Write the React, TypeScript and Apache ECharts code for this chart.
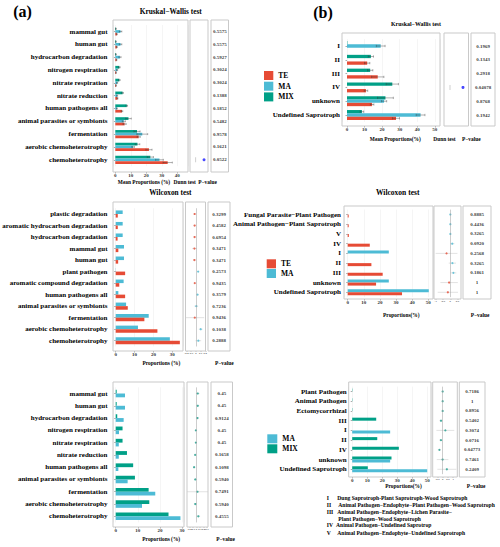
import { useEffect, useRef } from "react";
import * as echarts from "echarts";

// ---------------- data ----------------
// (a) Kruskal-Wallis (TE / MA / MIX)
const a1Categories = ["mammal gut", "human gut", "hydrocarbon degradation", "nitrogen respiration", "nitrate respiration", "nitrate reduction", "human pathogens all", "animal parasites or symbionts", "fermentation", "aerobic chemoheterotrophy", "chemoheterotrophy"];
const a1MIX = [0.4, 0.4, 0.4, 2.6, 2.6, 4.7, 7.4, 8.5, 14.0, 14.3, 22.6];
const a1MA = [3.4, 3.4, 3.0, 1.2, 1.2, 1.2, 1.0, 5.5, 17.4, 11.5, 28.5];
const a1TE = [1.0, 1.0, 0.8, 0.5, 0.5, 1.4, 4.3, 6.0, 15.1, 21.7, 33.8];
const a1MIXErr = [0.3, 0.3, 0.3, 0.5, 0.5, 0.5, 0.5, 1.8, 2.0, 1.5, 2.0];
const a1MAErr = [0.8, 0.8, 0.7, 0.3, 0.3, 0.3, 0.3, 1.0, 3.5, 0.8, 2.5];
const a1TEErr = [0.3, 0.3, 0.2, 0.2, 0.2, 0.3, 0.5, 1.0, 1.0, 2.0, 3.0];
const a1PValues = ["0.5575", "0.5575", "0.5927", "0.3024", "0.3024", "0.1388", "0.1852", "0.5482", "0.9578", "0.1621", "0.0522"];
const a1DunnRow = 10;
const a1DunnMark = 0.32;
const a1DunnDot = 0.78;

// (a) Wilcoxon TE vs MA
const a2Categories = ["plastic degradation", "aromatic hydrocarbon degradation", "hydrocarbon degradation", "mammal gut", "human gut", "plant pathogen", "aromatic compound degradation", "human pathogens all", "animal parasites or symbionts", "fermentation", "aerobic chemoheterotrophy", "chemoheterotrophy"];
const a2MA = [3.7, 3.7, 3.7, 4.4, 4.4, 0.1, 4.2, 1.4, 5.5, 17.5, 11.8, 28.7];
const a2TE = [1.1, 1.1, 1.0, 1.4, 1.3, 5.0, 1.9, 5.0, 6.4, 15.2, 22.1, 34.0];
const a2Diff = [-0.026, -0.026, -0.027, -0.03, -0.031, 0.049, -0.023, 0.036, 0.009, -0.023, 0.103, 0.053];
const a2Half = [0.02, 0.02, 0.02, 0.05, 0.03, 0.02, 0.02, 0.02, 0.04, 0.2, 0.04, 0.06];
const a2PValues = ["0.3299", "0.4582", "0.6954", "0.3471", "0.3471", "0.2573", "0.9435", "0.3579", "0.7236", "0.9436", "0.1038", "0.2888"];

// (a) Wilcoxon MIX vs MA
const a3Categories = ["mammal gut", "human gut", "hydrocarbon degradation", "nitrogen respiration", "nitrate respiration", "nitrate reduction", "human pathogens all", "animal parasites or symbionts", "fermentation", "aerobic chemoheterotrophy", "chemoheterotrophy"];
const a3MIX = [0.45, 0.45, 0.7, 3.1, 3.1, 5.1, 7.9, 8.7, 14.9, 15.2, 23.9];
const a3MA = [4.2, 4.2, 3.6, 1.5, 1.4, 1.4, 1.2, 5.4, 17.9, 11.9, 29.3];
const a3Diff = [0.037, 0.037, 0.029, -0.017, -0.017, -0.037, -0.067, -0.033, 0.03, -0.033, 0.054];
const a3Half = [0.05, 0.04, 0.03, 0.02, 0.02, 0.02, 0.03, 0.03, 0.3, 0.04, 0.05];
const a3PValues = ["0.45", "0.45", "0.9124", "0.45", "0.45", "0.1658", "0.1098", "0.5940", "0.7491", "0.5940", "0.4555"];

// (b) Kruskal-Wallis
const b1Categories = ["I", "II", "III", "IV", "unknown", "Undefined Saprotroph"];
const b1MIX = [0.2, 13.6, 13.2, 25.8, 21.9, 8.5];
const b1MA = [19.2, 0, 0, 0, 21.1, 41.9];
const b1TE = [0, 11.5, 17.5, 10.8, 14.3, 27.9];
const b1MIXErr = [0, 1.5, 1.5, 3.5, 4.5, 1.0];
const b1MAErr = [2.5, 0, 0, 0, 1.5, 2.5];
const b1TEErr = [0, 1.5, 3.5, 1.0, 1.0, 2.0];
const b1PValues = ["0.1969", "0.1343", "0.2918", "0.04078", "0.8768", "0.1942"];
const b1DunnRow = 3;
const b1DunnMark = 0.245;
const b1DunnDot = 0.775;

// (b) Wilcoxon TE vs MA
const b2Categories = ["Fungal Parasite\u2212Plant Pathogen", "Animal Pathogen\u2212Plant Saprotroph", "V", "IV", "I", "II", "III", "unknown", "Undefined Saprotroph"];
const b2MA = [0, 0, 0, 0, 25.5, 0, 0, 25.5, 50.3];
const b2TE = [0.6, 0.6, 0.7, 13.7, 0, 14.7, 21.7, 17.6, 33.7];
const b2Diff = [0.006, 0.006, 0.007, 0.137, -0.255, 0.147, 0.217, -0.079, -0.166];
const b2Half = [0.02, 0.02, 0.02, 0.15, 0.75, 0.25, 0.2, 0.6, 0.7];
const b2PValues = ["0.8885", "0.4436", "0.3265", "0.0920", "0.2568", "0.3265", "0.1861", "1", "1"];

// (b) Wilcoxon MA vs MIX
const b3Categories = ["Plant Pathogen", "Animal Pathogen", "Ectomycorrhizal", "III", "I", "II", "IV", "unknown", "Undefined Saprotroph"];
const b3MIX = [0.2, 0.2, 0.2, 16.0, 0, 16.7, 31.1, 26.2, 10.4];
const b3MA = [0, 0, 0, 0, 25.3, 0, 0, 25.3, 50.0];
const b3Diff = [-0.002, -0.002, -0.002, -0.16, 0.253, -0.167, -0.311, -0.009, 0.396];
const b3Half = [0.02, 0.02, 0.02, 0.15, 0.85, 0.15, 0.15, 0.55, 0.9];
const b3PValues = ["0.7186", "1", "0.8956", "0.5402", "0.3074", "0.0716", "0.04773", "0.7461", "0.2409"];

const footKeys = ["I", "II", "III", "", "IV", "V"];
const footTexts = [
  "Dung Saprotroph-Plant Saprotroph-Wood Saprotroph",
  "Animal Pathogen\u2212Endophyte\u2212Plant Pathogen\u2212Wood Saprotroph",
  "Animal Pathogen\u2212Endophyte\u2212Lichen Parasite\u2212",
  "Plant Pathogen\u2212Wood Saprotroph",
  "Animal Pathogen\u2212Undefined Saprotrop",
  "Animal Pathogen\u2212Endophyte\u2212Undefined Saprotroph",
];

// ---------------- styling ----------------
const FONT = "'Liberation Serif','Times New Roman',serif";
const COL_TE = "#E64B35";
const COL_MA = "#4DBBD5";
const COL_MIX = "#00A087";
const COL_TEAL_DOT = "#1F9E8D";
const INK = "#000000";

function buildOption() {
  const grid: any[] = [];
  const xAxis: any[] = [];
  const yAxis: any[] = [];
  const series: any[] = [];
  const graphic: any[] = [];

  const frame = (x1: number, y1: number, x2: number, y2: number) =>
    graphic.push({
      type: "rect", silent: true, z: 10,
      shape: { x: x1, y: y1, width: x2 - x1, height: y2 - y1 },
      style: { fill: "none", stroke: "#c9c9c9", lineWidth: 1 },
    });

  const addGrid = (x1: number, y1: number, x2: number, y2: number, c0: number, cN: number, n: number) => {
    const s = (cN - c0) / (n - 1);
    const top = c0 - s / 2;
    const bottom = cN + s / 2;
    frame(x1, y1, x2, y2);
    grid.push({ left: x1, top, width: x2 - x1, height: bottom - top, containLabel: false, outerBoundsMode: "none" });
    return { gi: grid.length - 1, off: y2 - bottom };
  };

  const hiddenY = (gi: number, cats: string[]) =>
    yAxis.push({ gridIndex: gi, type: "category", data: cats, inverse: true, show: false });

  const text = (t: string, x: number, y: number, size: number, align = "center") =>
    graphic.push({
      type: "text", silent: true, x, y, z: 20,
      style: {
        text: t, font: `bold ${size}px ${FONT}`, fill: INK,
        textAlign: align, textVerticalAlign: "middle", align, verticalAlign: "middle",
      },
    });

  type BarS = { name: string; color: string; values: number[]; err?: number[] };
  const barPanel = (
    L: { x1: number; y1: number; x2: number; y2: number; c0: number; cN: number; zero: number; ppu: number; gap: number; margin: number },
    cats: string[], ss: BarS[]
  ) => {
    const { gi, off } = addGrid(L.x1, L.y1, L.x2, L.y2, L.c0, L.cN, cats.length);
    xAxis.push({
      gridIndex: gi, type: "value",
      min: -(L.zero - L.x1) / L.ppu, max: (L.x2 - L.zero) / L.ppu,
      minInterval: 10, maxInterval: 10, offset: off,
      axisLine: { show: false },
      axisTick: { show: true, length: 1.5, lineStyle: { color: "#555", width: 0.5 } },
      axisLabel: { showMinLabel: false, showMaxLabel: false, margin: 1.2, fontSize: 5, fontWeight: "bold", fontFamily: FONT, color: "#333" },
      splitLine: { show: true, lineStyle: { color: "#ebebeb", width: 0.5 } },
    });
    yAxis.push({
      gridIndex: gi, type: "category", data: cats, inverse: true,
      axisLine: { show: false },
      axisTick: { show: true, alignWithLabel: true, length: 1.5, lineStyle: { color: "#555", width: 0.5 } },
      axisLabel: { interval: 0, margin: L.margin, fontSize: 7, fontWeight: "bold", fontFamily: FONT, color: INK },
      splitLine: { show: false },
    });
    const xi = xAxis.length - 1;
    const yi = yAxis.length - 1;
    const n = ss.length;
    const frac = 1 - L.gap;
    ss.forEach((s) =>
      series.push({
        type: "bar", name: s.name, xAxisIndex: xi, yAxisIndex: yi, data: s.values,
        barGap: "0%", barCategoryGap: `${L.gap * 100}%`, itemStyle: { color: s.color }, silent: true,
      })
    );
    ss.forEach((s, k) => {
      if (!s.err) return;
      const err = s.err;
      series.push({
        type: "custom", xAxisIndex: xi, yAxisIndex: yi, silent: true, z: 3,
        data: s.values.map((v, i) => [v, i, err[i]]),
        renderItem: (_p: any, api: any) => {
          const v = api.value(0);
          const i = api.value(1);
          const e = api.value(2);
          if (!(e > 0)) return null;
          const c = api.coord([v, i]);
          const band = Math.abs(api.size([0, 1])[1]);
          const bw = (band * frac) / n;
          const y = c[1] - (band * frac) / 2 + bw * (k + 0.5);
          const xa = api.coord([Math.max(v - e, 0), i])[0];
          const xb = api.coord([v + e, i])[0];
          const h = bw * 0.35;
          const style = { stroke: "#3a3a3a", lineWidth: 0.5, opacity: 0.8 };
          return {
            type: "group",
            children: [
              { type: "line", shape: { x1: xa, y1: y, x2: xb, y2: y }, style },
              { type: "line", shape: { x1: xb, y1: y - h, x2: xb, y2: y + h }, style },
              { type: "line", shape: { x1: xa, y1: y - h, x2: xa, y2: y + h }, style },
            ],
          };
        },
      });
    });
  };

  const ciPanel = (
    L: { x1: number; y1: number; x2: number; y2: number; c0: number; cN: number; min: number; max: number; step: number },
    cats: string[], diffs: number[], halfs: number[], colorOf: (d: number) => string
  ) => {
    const { gi, off } = addGrid(L.x1, L.y1, L.x2, L.y2, L.c0, L.cN, cats.length);
    xAxis.push({
      gridIndex: gi, type: "value", min: L.min, max: L.max, minInterval: L.step, maxInterval: L.step, offset: off,
      axisLine: { show: false },
      axisTick: { show: true, length: 1, lineStyle: { color: "#555", width: 0.4 } },
      axisLabel: { showMinLabel: false, showMaxLabel: false, margin: 1, fontSize: 2.7, fontWeight: "bold", fontFamily: FONT, color: "#333" },
      splitLine: { show: false },
    });
    hiddenY(gi, cats);
    const xi = xAxis.length - 1;
    const yi = yAxis.length - 1;
    series.push({
      type: "custom", xAxisIndex: xi, yAxisIndex: yi, silent: true,
      data: diffs.map((d, i) => [d, i, halfs[i]]),
      renderItem: (p: any, api: any) => {
        const d = api.value(0);
        const i = api.value(1);
        const h = api.value(2);
        const cs = p.coordSys;
        const y = api.coord([d, i])[1];
        const xa = Math.max(cs.x, api.coord([d - h, i])[0]);
        const xb = Math.min(cs.x + cs.width, api.coord([d + h, i])[0]);
        return { type: "line", shape: { x1: xa, y1: y, x2: xb, y2: y }, style: { stroke: "#cfcfcf", lineWidth: 0.6 } };
      },
    });
    series.push({
      type: "scatter", xAxisIndex: xi, yAxisIndex: yi, silent: true, symbolSize: 2.2,
      data: diffs.map((d, i) => ({ value: [d, i], itemStyle: { color: colorOf(d) } })),
      markLine: {
        silent: true, symbol: ["none", "none"], label: { show: false },
        lineStyle: { color: "#9a9a9a", width: 0.5, type: "solid" },
        data: [{ xAxis: 0 }],
      },
    });
  };

  const dunnPanel = (
    L: { x1: number; y1: number; x2: number; y2: number; c0: number; cN: number },
    cats: string[], row: number, mark: number, dot: number
  ) => {
    const { gi } = addGrid(L.x1, L.y1, L.x2, L.y2, L.c0, L.cN, cats.length);
    xAxis.push({ gridIndex: gi, type: "value", min: 0, max: 1, show: false });
    hiddenY(gi, cats);
    series.push({
      type: "scatter", xAxisIndex: xAxis.length - 1, yAxisIndex: yAxis.length - 1, silent: true,
      data: [
        { value: [mark, row], symbol: "rect", symbolSize: [0.6, 5], itemStyle: { color: "#9c9c9c" } },
        { value: [dot, row], symbol: "circle", symbolSize: 3, itemStyle: { color: "#1a1aff" } },
      ],
    });
  };

  const pPanel = (
    L: { x1: number; y1: number; x2: number; y2: number; c0: number; cN: number },
    cats: string[], pv: string[]
  ) => {
    const { gi } = addGrid(L.x1, L.y1, L.x2, L.y2, L.c0, L.cN, cats.length);
    xAxis.push({ gridIndex: gi, type: "value", min: 0, max: 1, show: false });
    hiddenY(gi, cats);
    series.push({
      type: "scatter", xAxisIndex: xAxis.length - 1, yAxisIndex: yAxis.length - 1, silent: true,
      symbolSize: 1, itemStyle: { color: "rgba(0,0,0,0)" },
      data: cats.map((_c, i) => [0.5, i]),
      label: {
        show: true, position: "inside", formatter: (p: any) => pv[p.dataIndex],
        fontSize: 5, fontWeight: "bold", fontFamily: FONT, color: INK,
      },
    });
  };

  // ---------- (a) top: Kruskal-Wallis ----------
  const a1Rows = { y1: 20, y2: 172, c0: 31.5, cN: 159.8 };
  barPanel({ x1: 113, x2: 188, ...a1Rows, zero: 115.3, ppu: 1.55, gap: 0.36, margin: 5.5 }, a1Categories, [
    { name: "MIX", color: COL_MIX, values: a1MIX, err: a1MIXErr },
    { name: "MA", color: COL_MA, values: a1MA, err: a1MAErr },
    { name: "TE", color: COL_TE, values: a1TE, err: a1TEErr },
  ]);
  dunnPanel({ x1: 190, x2: 208, ...a1Rows }, a1Categories, a1DunnRow, a1DunnMark, a1DunnDot);
  pPanel({ x1: 211, x2: 228.5, ...a1Rows }, a1Categories, a1PValues);

  // ---------- (a) middle: Wilcoxon TE vs MA ----------
  const a2Rows = { y1: 202, y2: 351, c0: 214, cN: 340.7 };
  barPanel({ x1: 113, x2: 183, ...a2Rows, zero: 115.7, ppu: 1.887, gap: 0.38, margin: 5.5 }, a2Categories, [
    { name: "MA", color: COL_MA, values: a2MA },
    { name: "TE", color: COL_TE, values: a2TE },
  ]);
  ciPanel({ x1: 185.5, x2: 205.5, ...a2Rows, min: -0.22, max: 0.205, step: 0.1 }, a2Categories, a2Diff, a2Half,
    (d) => (d < 0 ? COL_TE : COL_MA));
  pPanel({ x1: 208, x2: 230, ...a2Rows }, a2Categories, a2PValues);

  // ---------- (a) bottom: Wilcoxon MIX vs MA ----------
  const a3Rows = { y1: 382, y2: 527, c0: 393.5, cN: 516.3 };
  barPanel({ x1: 113, x2: 184, ...a3Rows, zero: 115.7, ppu: 2.21, gap: 0.38, margin: 5.5 }, a3Categories, [
    { name: "MIX", color: COL_MIX, values: a3MIX },
    { name: "MA", color: COL_MA, values: a3MA },
  ]);
  ciPanel({ x1: 187, x2: 208, ...a3Rows, min: -0.27, max: 0.33, step: 0.1 }, a3Categories, a3Diff, a3Half, () => COL_TEAL_DOT);
  pPanel({ x1: 211, x2: 232.5, ...a3Rows }, a3Categories, a3PValues);

  // ---------- (b) top: Kruskal-Wallis ----------
  const b1Rows = { y1: 33, y2: 126, c0: 46, cN: 115 };
  barPanel({ x1: 342, x2: 440, ...b1Rows, zero: 347, ppu: 1.756, gap: 0.28, margin: 2 }, b1Categories, [
    { name: "MIX", color: COL_MIX, values: b1MIX, err: b1MIXErr },
    { name: "MA", color: COL_MA, values: b1MA, err: b1MAErr },
    { name: "TE", color: COL_TE, values: b1TE, err: b1TEErr },
  ]);
  dunnPanel({ x1: 444, x2: 468.5, ...b1Rows }, b1Categories, b1DunnRow, b1DunnMark, b1DunnDot);
  pPanel({ x1: 471, x2: 495, ...b1Rows }, b1Categories, b1PValues);

  // ---------- (b) middle: Wilcoxon TE vs MA ----------
  const b2Rows = { y1: 206, y2: 299, c0: 214.5, cN: 292.3 };
  barPanel({ x1: 344, x2: 433, ...b2Rows, zero: 347.7, ppu: 1.612, gap: 0.38, margin: 3 }, b2Categories, [
    { name: "MA", color: COL_MA, values: b2MA },
    { name: "TE", color: COL_TE, values: b2TE },
  ]);
  ciPanel({ x1: 434, x2: 461, ...b2Rows, min: -1.12, max: 0.74, step: 0.5 }, b2Categories, b2Diff, b2Half,
    (d) => (d < 0 ? COL_TE : COL_MA));
  pPanel({ x1: 463, x2: 491, ...b2Rows }, b2Categories, b2PValues);

  // ---------- (b) bottom: Wilcoxon MA vs MIX ----------
  const b3Rows = { y1: 382, y2: 477, c0: 391.5, cN: 469.3 };
  barPanel({ x1: 348.7, x2: 431, ...b3Rows, zero: 352.2, ppu: 1.5, gap: 0.38, margin: 2 }, b3Categories, [
    { name: "MIX", color: COL_MIX, values: b3MIX },
    { name: "MA", color: COL_MA, values: b3MA },
  ]);
  ciPanel({ x1: 432.7, x2: 457.3, ...b3Rows, min: -0.95, max: 1.39, step: 0.5 }, b3Categories, b3Diff, b3Half, () => COL_TEAL_DOT);
  pPanel({ x1: 459.3, x2: 485, ...b3Rows }, b3Categories, b3PValues);

  // ---------- texts ----------
  text("(a)", 22.5, 11.5, 16);
  text("(b)", 323, 12, 16);
  text("Kruskal\u2212Wallis test", 170.7, 11.7, 7.3);
  text("Wilcoxon test", 170.3, 192.7, 7.3);
  text("Kruskal\u2212Wallis test", 416, 24, 5.9);
  text("Wilcoxon test", 397.7, 192, 7.5);

  text("Mean Proportions (%)", 144, 181.7, 5.4);
  text("Dunn test", 184.7, 181.7, 5.4);
  text("P\u2212value", 207.5, 181.7, 5.4);
  text("Proportions (%)", 161.3, 363.3, 5.4);
  text("P\u2212value", 224.3, 363.3, 5.4);
  text("Proportions (%)", 161.2, 539.3, 5.4);
  text("P\u2212value", 225.5, 539.3, 5.4);
  text("Mean Proportions(%)", 395.3, 139.3, 5.4);
  text("Dunn test", 444.5, 139.3, 5.4);
  text("P\u2212value", 471.3, 139.3, 5.4);
  text("Proportions(%)", 401.3, 315, 5.4);
  text("P\u2212value", 480, 315, 5.4);
  text("Proportions(%)", 403.5, 486, 5.4);
  text("P\u2212value", 476, 486, 5.4);

  const footY = [497.7, 504.7, 512, 518.6, 525.3, 532.7];
  const footX = [337.3, 338.3, 337.3, 338.3, 336, 337.3];
  footTexts.forEach((t, i) => {
    if (footKeys[i]) text(footKeys[i], 326.7, footY[i], 5.6, "left");
    text(t, footX[i], footY[i], 5.6, "left");
  });

  const legendBase = {
    orient: "vertical", padding: 0, icon: "rect", selectedMode: false,
    itemWidth: 9.3, itemHeight: 9,
    textStyle: { fontSize: 7.5, fontWeight: "bold", fontFamily: FONT, color: INK, lineHeight: 9 },
  };

  return {
    animation: false,
    backgroundColor: "#ffffff",
    legend: [
      { ...legendBase, data: ["TE", "MA", "MIX"], left: 264, top: 71, itemGap: 1.7 },
      { ...legendBase, data: ["TE", "MA"], left: 266.7, top: 259.3, itemGap: 0.7 },
      { ...legendBase, data: ["MA", "MIX"], left: 267.3, top: 434.3, itemGap: 1, itemWidth: 10 },
    ],
    grid,
    xAxis,
    yAxis,
    series,
    graphic,
  };
}

export default function App() {
  const ref = useRef<HTMLDivElement>(null);
  useEffect(() => {
    if (!ref.current) return;
    const chart = echarts.init(ref.current, undefined, { renderer: "svg", width: 500, height: 547 });
    chart.setOption(buildOption() as any);
    return () => chart.dispose();
  }, []);
  return (
    <div
      ref={ref}
      style={{ position: "absolute", left: 0, top: 0, width: 500, height: 547, background: "#fff" }}
    />
  );
}
